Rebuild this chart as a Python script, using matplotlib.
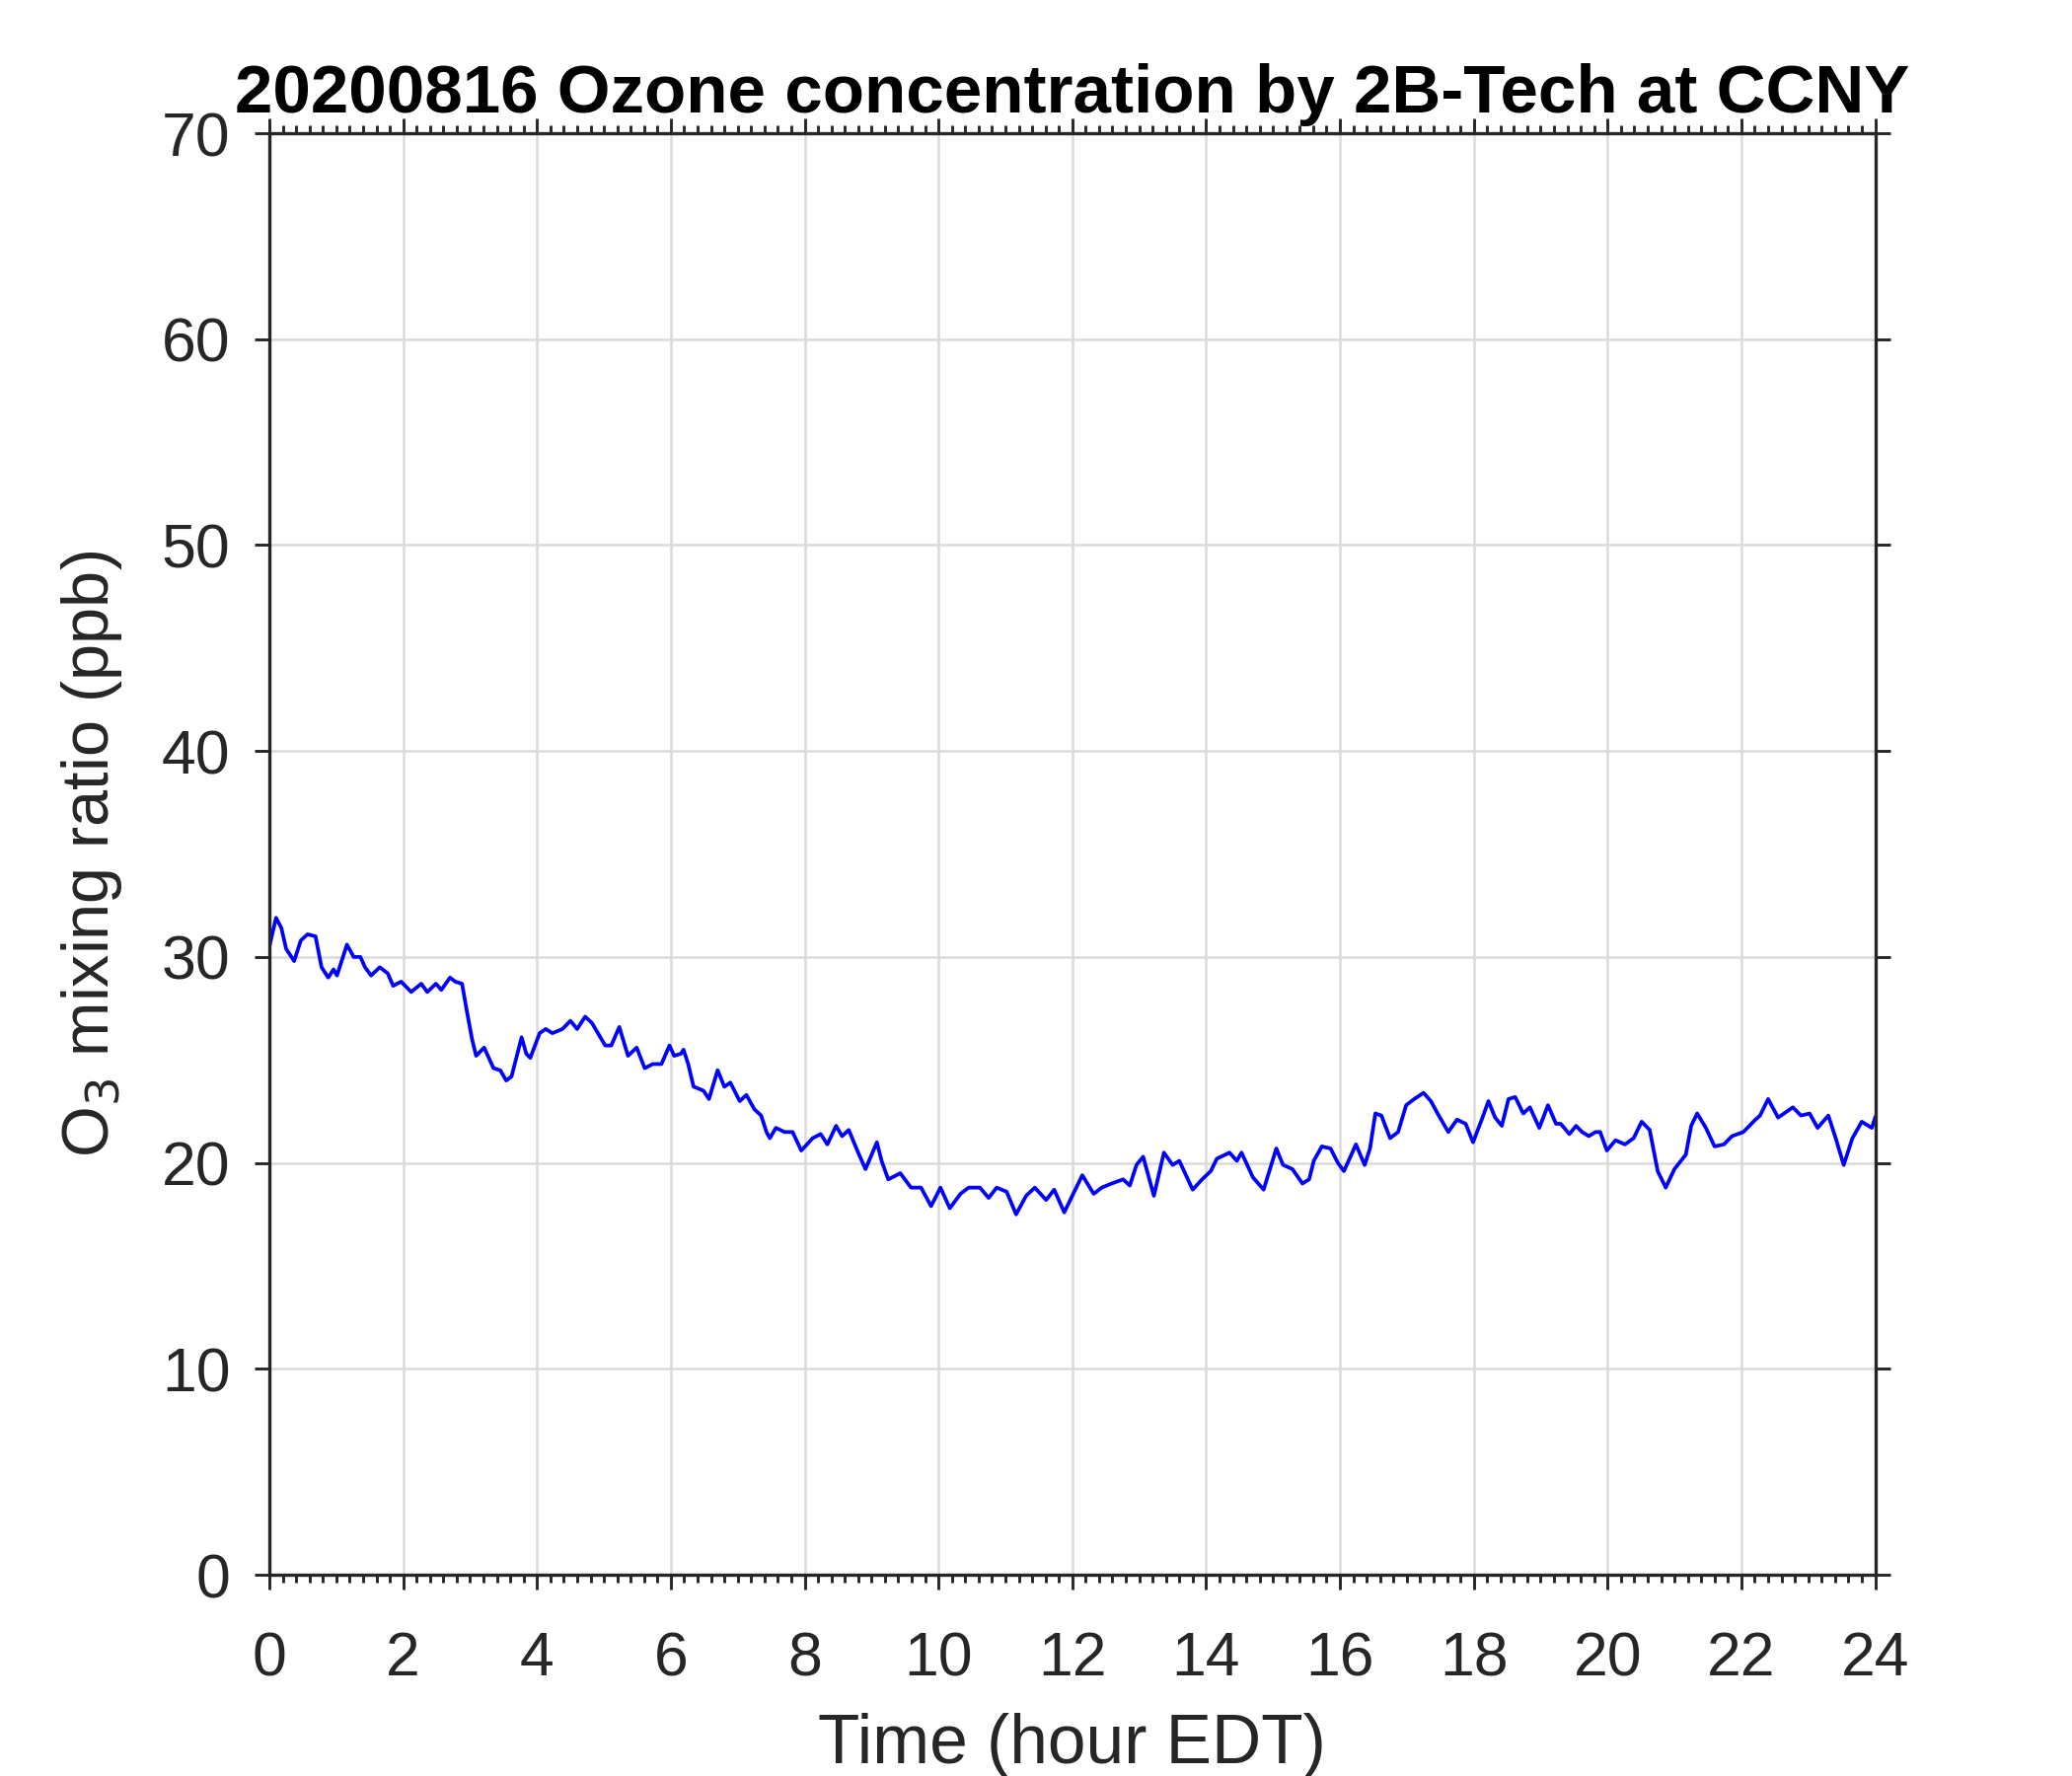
import numpy as np
import matplotlib.pyplot as plt
from matplotlib.ticker import MultipleLocator

plt.rcParams['font.family'] = ['Liberation Sans', 'DejaVu Sans']

# hour of day (EDT) and O3 mixing ratio (ppb)
hours = [0.00, 0.10, 0.18, 0.25, 0.37, 0.47, 0.57, 0.69, 0.78, 0.88, 0.96, 1.01,
         1.16, 1.26, 1.36, 1.43, 1.52, 1.65, 1.77, 1.85, 1.97, 2.12, 2.27, 2.36,
         2.49, 2.57, 2.70, 2.78, 2.88, 2.95, 3.03, 3.09, 3.21, 3.35, 3.45, 3.54,
         3.62, 3.77, 3.84, 3.90, 4.04, 4.13, 4.23, 4.38, 4.50, 4.60, 4.72, 4.82,
         5.02, 5.11, 5.23, 5.36, 5.49, 5.61, 5.73, 5.86, 5.98, 6.05, 6.15, 6.19,
         6.26, 6.34, 6.42, 6.49, 6.57, 6.70, 6.80, 6.89, 7.03, 7.13, 7.25, 7.35,
         7.43, 7.48, 7.57, 7.70, 7.82, 7.95, 8.12, 8.24, 8.34, 8.47, 8.56, 8.66,
         8.80, 8.91, 9.08, 9.15, 9.25, 9.43, 9.59, 9.74, 9.89, 10.03, 10.17, 10.33,
         10.45, 10.62, 10.75, 10.87, 11.02, 11.16, 11.31, 11.44, 11.61, 11.73, 11.88, 12.00,
         12.15, 12.32, 12.44, 12.59, 12.76, 12.86, 12.96, 13.06, 13.22, 13.37, 13.50, 13.60,
         13.80, 13.94, 14.07, 14.16, 14.35, 14.46, 14.53, 14.70, 14.86, 15.05, 15.15, 15.29,
         15.44, 15.54, 15.61, 15.73, 15.86, 15.97, 16.06, 16.13, 16.24, 16.37, 16.45, 16.53,
         16.62, 16.75, 16.87, 16.99, 17.11, 17.25, 17.36, 17.46, 17.62, 17.75, 17.88, 17.99,
         18.12, 18.22, 18.32, 18.42, 18.52, 18.62, 18.74, 18.84, 18.98, 19.11, 19.23, 19.30,
         19.43, 19.53, 19.62, 19.72, 19.82, 19.89, 19.99, 20.12, 20.26, 20.39, 20.51, 20.63,
         20.75, 20.87, 21.00, 21.17, 21.25, 21.34, 21.47, 21.60, 21.74, 21.86, 22.03, 22.21,
         22.28, 22.40, 22.55, 22.77, 22.89, 23.02, 23.14, 23.30, 23.41, 23.53, 23.66, 23.80,
         23.95, 24.00]
o3 = [30.5, 31.9, 31.4, 30.4, 29.8, 30.8, 31.1, 31.0, 29.5, 29.0, 29.4, 29.1,
      30.6, 30.0, 30.0, 29.5, 29.1, 29.5, 29.2, 28.6, 28.8, 28.3, 28.7, 28.3,
      28.7, 28.4, 29.0, 28.8, 28.7, 27.4, 26.0, 25.2, 25.6, 24.6, 24.5, 24.0,
      24.2, 26.1, 25.3, 25.1, 26.3, 26.5, 26.3, 26.5, 26.9, 26.5, 27.1, 26.8,
      25.7, 25.7, 26.6, 25.2, 25.6, 24.6, 24.8, 24.8, 25.7, 25.2, 25.3, 25.5,
      24.8, 23.7, 23.6, 23.5, 23.1, 24.5, 23.7, 23.9, 23.0, 23.3, 22.6, 22.3,
      21.5, 21.2, 21.7, 21.5, 21.5, 20.6, 21.2, 21.4, 20.9, 21.8, 21.3, 21.6,
      20.5, 19.7, 21.0, 20.1, 19.2, 19.5, 18.8, 18.8, 17.9, 18.8, 17.8, 18.5,
      18.8, 18.8, 18.3, 18.8, 18.6, 17.5, 18.4, 18.8, 18.2, 18.7, 17.6, 18.4,
      19.4, 18.5, 18.8, 19.0, 19.2, 18.9, 19.9, 20.3, 18.4, 20.5, 19.9, 20.1,
      18.7, 19.2, 19.6, 20.2, 20.5, 20.1, 20.5, 19.3, 18.7, 20.7, 19.9, 19.7,
      19.0, 19.2, 20.1, 20.8, 20.7, 20.0, 19.6, 20.1, 20.9, 19.9, 20.7, 22.4,
      22.3, 21.2, 21.5, 22.8, 23.1, 23.4, 23.0, 22.4, 21.5, 22.1, 21.9, 21.0,
      22.1, 23.0, 22.2, 21.8, 23.1, 23.2, 22.4, 22.7, 21.7, 22.8, 21.9, 21.9,
      21.4, 21.8, 21.5, 21.3, 21.5, 21.5, 20.6, 21.1, 20.9, 21.2, 22.0, 21.6,
      19.6, 18.8, 19.7, 20.4, 21.8, 22.4, 21.7, 20.8, 20.9, 21.3, 21.5, 22.1,
      22.3, 23.1, 22.2, 22.7, 22.3, 22.4, 21.7, 22.3, 21.2, 19.9, 21.2, 22.0,
      21.7, 22.2]

title = '20200816 Ozone concentration by 2B-Tech at CCNY'
dark = '#262626'

fig = plt.figure(figsize=(7, 6), dpi=300)
ax = fig.add_axes([0.130, 0.1133, 0.775, 0.8117])

ax.plot(hours, o3, color='#0000ff', lw=0.9)

ax.set_xlim(0, 24)
ax.set_ylim(0, 70)
ax.xaxis.set_major_locator(MultipleLocator(2))
ax.xaxis.set_minor_locator(MultipleLocator(0.2))
ax.yaxis.set_major_locator(MultipleLocator(10))

ax.grid(True, which='major', color='#dadada', lw=0.6)
ax.set_axisbelow(True)

ax.tick_params(which='both', direction='out', colors=dark, top=True, right=True,
               labelsize=15, width=0.7)
ax.tick_params(which='major', length=3.5)
ax.tick_params(which='minor', length=2)
ax.tick_params(axis='x', pad=10)
ax.tick_params(axis='y', pad=6)
for s in ax.spines.values():
    s.set_color(dark)
    s.set_linewidth(0.8)

ax.set_xlabel('Time (hour EDT)', fontsize=16.7, color=dark, labelpad=6)
ax.set_ylabel('O$_3$ mixing ratio (ppb)', fontsize=16, color=dark, labelpad=9)
ax.set_title(title, fontsize=16.6, fontweight='bold', pad=5)

fig.savefig('out.png', dpi=300)
